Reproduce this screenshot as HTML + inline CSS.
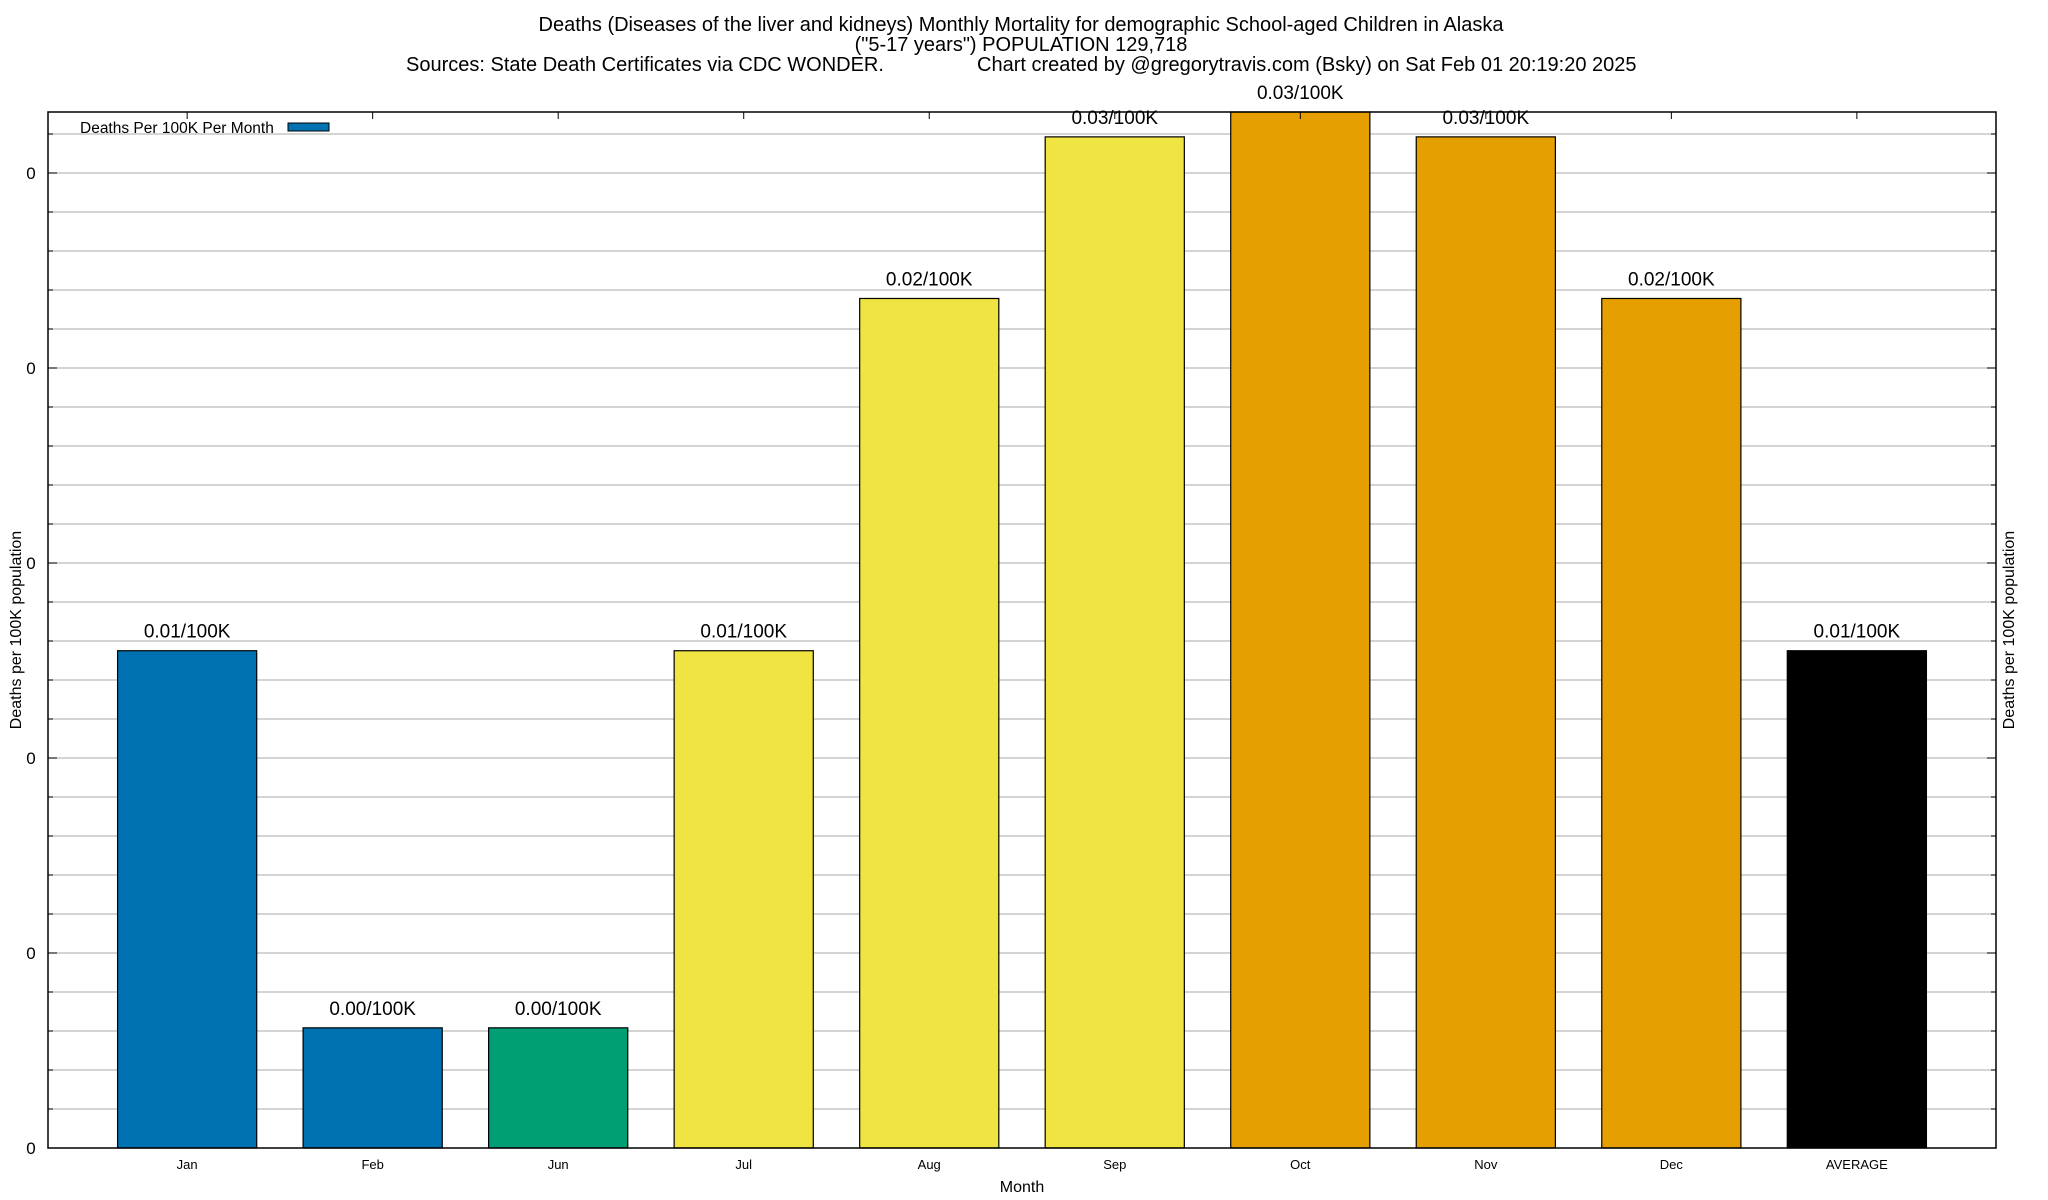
<!DOCTYPE html>
<html><head><meta charset="utf-8"><style>
html,body{margin:0;padding:0;background:#fff;}
svg{display:block;font-family:"Liberation Sans",sans-serif;}
</style></head><body>
<svg id="chart" width="2048" height="1200" viewBox="0 0 2048 1200">
<g font-size="20" fill="#000">
<text x="1021" y="31" text-anchor="middle">Deaths (Diseases of the liver and kidneys) Monthly Mortality for demographic School-aged Children in Alaska</text>
<text x="1021" y="51" text-anchor="middle">("5-17 years") POPULATION 129,718</text>
<text x="406" y="71">Sources: State Death Certificates via CDC WONDER.</text>
<text x="977" y="71">Chart created by @gregorytravis.com (Bsky) on Sat Feb 01 20:19:20 2025</text>
</g>
<g id="grid"></g>
<g id="bars"></g>
<rect x="48" y="112" width="1948" height="1036" fill="none" stroke="#000" stroke-width="1.5"/>
<g id="ticks"></g>
<g>
<text x="80" y="133" font-size="15.5">Deaths Per 100K Per Month</text>
<rect x="288" y="123" width="41" height="8" fill="#0072b2" stroke="#000"/>
</g>
<text x="1022" y="1192" font-size="16" text-anchor="middle">Month</text>
<text transform="translate(21,630) rotate(-90)" font-size="16" text-anchor="middle">Deaths per 100K population</text>
<text transform="translate(2014,630) rotate(-90)" font-size="16" text-anchor="middle">Deaths per 100K population</text>
</svg>
<script>
const categories = ["Jan","Feb","Jun","Jul","Aug","Sep","Oct","Nov","Dec","AVERAGE"];
const values = [0.0120,0.0029,0.0029,0.0120,0.0205,0.0244,0.0250,0.0244,0.0205,0.0120];
const valueLabels = ["0.01/100K","0.00/100K","0.00/100K","0.01/100K","0.02/100K","0.03/100K","0.03/100K","0.03/100K","0.02/100K","0.01/100K"];
const colors = ["#0072b2","#0072b2","#009e73","#f0e442","#f0e442","#f0e442","#e69f00","#e69f00","#e69f00","#000000"];
const yTickLabels = ["0","0","0","0","0","0"];

const NS="http://www.w3.org/2000/svg";
const L=48,R=1996,T=112,B=1148;
const yMax=0.0250;
const majorStep=0.0250*195/1036;
function xScale(i){return L+(i+0.75)*(R-L)/10.5;}
function yScale(v){return B-(v/yMax)*(B-T);}
function mk(tag,attrs,parent){const e=document.createElementNS(NS,tag);for(const k in attrs)e.setAttribute(k,attrs[k]);parent.appendChild(e);return e;}
const grid=document.getElementById('grid'),bars=document.getElementById('bars'),ticks=document.getElementById('ticks');
const slot=(R-L)/10.5;
for(let k=1;k*majorStep/5<=yMax;k++){
  const y=yScale(k*majorStep/5);
  const ln=mk('line',{x1:L,x2:R,y1:y,y2:y,stroke:'#bbb','stroke-width':1.2},grid);
  
  
  const len=(k%5===0)?9:5;
  const t1=mk('line',{x1:L,x2:L+len,y1:y,y2:y,stroke:'#000'},ticks);
  
  
  const t2=mk('line',{x1:R-len,x2:R,y1:y,y2:y,stroke:'#000'},ticks);
  
  
}
yTickLabels.forEach((lab,k)=>{
  const y=yScale(k*majorStep);
  const t=mk('text',{x:31,y:y+6,'font-size':17,'text-anchor':'middle'},ticks);
  t.textContent=lab;
  
  
});
categories.forEach((c,i)=>{
  const cx=xScale(i),w=slot*0.75,y=yScale(values[i]);
  const r=mk('rect',{x:cx-w/2,y:y,width:w,height:B-y,fill:colors[i],stroke:'#000','stroke-width':1.2},bars);
  
  
  const vl=mk('text',{x:cx,y:y-13,'font-size':19,'text-anchor':'middle'},bars);
  vl.textContent=valueLabels[i];
  
  
  const tl=mk('text',{x:cx,y:1169,'font-size':13,'text-anchor':'middle'},ticks);
  tl.textContent=c;
  
  
  const tt=mk('line',{x1:cx,x2:cx,y1:T,y2:T+7,stroke:'#000'},ticks);
  
  
});
</script>
</body></html>
